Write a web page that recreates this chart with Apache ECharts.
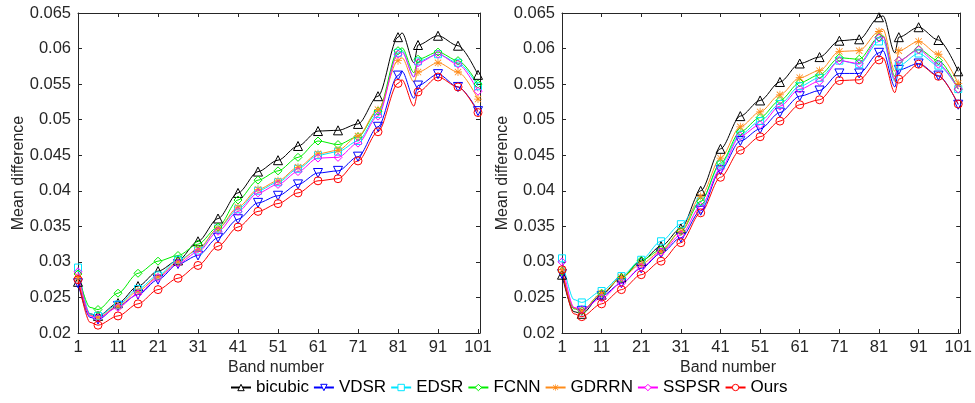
<!DOCTYPE html>
<html>
<head>
<meta charset="utf-8">
<script src="https://cdn.jsdelivr.net/npm/echarts@6/dist/echarts.min.js"></script>
<style>
  html, body { margin: 0; padding: 0; background: #fff; }
  #chart { width: 975px; height: 403px; }
</style>
</head>
<body>
<div id="chart"></div>
<script>
// band positions where values were read (markers sit on every 5th band)
var bands = [1, 4, 6, 11, 16, 21, 26, 31, 36, 41, 46, 51, 56, 61, 66, 71, 76, 81, 82, 85, 86, 91, 96, 101];

var names = ['bicubic', 'VDSR', 'EDSR', 'FCNN', 'GDRRN', 'SSPSR', 'Ours'];

// left panel
var bicubicL = [0.0272, 0.0227, 0.0224, 0.0242, 0.0266, 0.0287, 0.0302, 0.0329, 0.0361, 0.0397, 0.0427, 0.0443, 0.0463, 0.0484, 0.0485, 0.0494, 0.0533, 0.0616, 0.0622, 0.0580, 0.0605, 0.0618, 0.0604, 0.0563];
var vdsrL    = [0.0270, 0.0222, 0.0219, 0.0238, 0.0254, 0.0275, 0.0297, 0.0309, 0.0334, 0.0360, 0.0383, 0.0393, 0.0409, 0.0425, 0.0428, 0.0448, 0.0490, 0.0562, 0.0568, 0.0530, 0.0548, 0.0564, 0.0546, 0.0512];
var edsrL    = [0.0292, 0.0227, 0.0224, 0.0240, 0.0262, 0.0281, 0.0303, 0.0316, 0.0347, 0.0374, 0.0400, 0.0412, 0.0431, 0.0450, 0.0455, 0.0470, 0.0508, 0.0594, 0.0597, 0.0560, 0.0582, 0.0592, 0.0580, 0.0547];
var fcnnL    = [0.0283, 0.0236, 0.0233, 0.0256, 0.0284, 0.0301, 0.0309, 0.0325, 0.0349, 0.0387, 0.0415, 0.0428, 0.0447, 0.0470, 0.0465, 0.0476, 0.0512, 0.0597, 0.0601, 0.0566, 0.0585, 0.0595, 0.0583, 0.0550];
var gdrrnL   = [0.0278, 0.0225, 0.0222, 0.0238, 0.0259, 0.0279, 0.0300, 0.0318, 0.0347, 0.0377, 0.0402, 0.0414, 0.0433, 0.0452, 0.0457, 0.0477, 0.0514, 0.0583, 0.0587, 0.0553, 0.0567, 0.0580, 0.0567, 0.0529];
var sspsrL   = [0.0286, 0.0224, 0.0221, 0.0236, 0.0255, 0.0278, 0.0298, 0.0314, 0.0343, 0.0371, 0.0397, 0.0409, 0.0427, 0.0446, 0.0447, 0.0467, 0.0505, 0.0592, 0.0595, 0.0560, 0.0580, 0.0592, 0.0578, 0.0540];
var oursL    = [0.0275, 0.0215, 0.0211, 0.0224, 0.0241, 0.0261, 0.0277, 0.0295, 0.0322, 0.0349, 0.0371, 0.0382, 0.0397, 0.0414, 0.0417, 0.0442, 0.0483, 0.0551, 0.0556, 0.0519, 0.0539, 0.0560, 0.0546, 0.0510];

// right panel
var bicubicR = [0.0282, 0.0230, 0.0227, 0.0254, 0.0278, 0.0301, 0.0322, 0.0347, 0.0400, 0.0459, 0.0505, 0.0527, 0.0553, 0.0579, 0.0588, 0.0611, 0.0613, 0.0644, 0.0646, 0.0594, 0.0616, 0.0630, 0.0612, 0.0568];
var vdsrR    = [0.0283, 0.0235, 0.0231, 0.0252, 0.0270, 0.0291, 0.0312, 0.0334, 0.0372, 0.0429, 0.0470, 0.0487, 0.0510, 0.0533, 0.0541, 0.0565, 0.0565, 0.0594, 0.0597, 0.0546, 0.0570, 0.0579, 0.0562, 0.0521];
var edsrR    = [0.0305, 0.0247, 0.0243, 0.0259, 0.0280, 0.0303, 0.0329, 0.0353, 0.0385, 0.0437, 0.0479, 0.0498, 0.0522, 0.0547, 0.0559, 0.0583, 0.0578, 0.0610, 0.0612, 0.0554, 0.0576, 0.0593, 0.0576, 0.0543];
var fcnnR    = [0.0287, 0.0234, 0.0231, 0.0256, 0.0278, 0.0302, 0.0317, 0.0343, 0.0385, 0.0439, 0.0483, 0.0503, 0.0527, 0.0552, 0.0563, 0.0587, 0.0585, 0.0616, 0.0618, 0.0561, 0.0583, 0.0599, 0.0583, 0.0543];
var gdrrnR   = [0.0289, 0.0235, 0.0231, 0.0256, 0.0278, 0.0297, 0.0315, 0.0343, 0.0392, 0.0446, 0.0490, 0.0511, 0.0535, 0.0559, 0.0569, 0.0596, 0.0597, 0.0624, 0.0627, 0.0568, 0.0597, 0.0610, 0.0592, 0.0551];
var sspsrR   = [0.0300, 0.0236, 0.0233, 0.0249, 0.0270, 0.0292, 0.0314, 0.0338, 0.0378, 0.0431, 0.0477, 0.0493, 0.0519, 0.0543, 0.0554, 0.0583, 0.0579, 0.0615, 0.0617, 0.0557, 0.0583, 0.0598, 0.0578, 0.0543];
var oursR    = [0.0289, 0.0227, 0.0223, 0.0241, 0.0261, 0.0282, 0.0301, 0.0327, 0.0369, 0.0419, 0.0457, 0.0476, 0.0498, 0.0521, 0.0528, 0.0555, 0.0556, 0.0584, 0.0587, 0.0538, 0.0557, 0.0578, 0.0561, 0.0522];

var leftValues = [bicubicL, vdsrL, edsrL, fcnnL, gdrrnL, sspsrL, oursL];
var rightValues = [bicubicR, vdsrR, edsrR, fcnnR, gdrrnR, sspsrR, oursR];

var colors = ['#000000', '#0000ff', '#00e5ff', '#00ee00', '#ff8c1a', '#ff00ff', '#ff0000'];
var starPath = 'path://M4.5,0L5.5,0L5.5,10L4.5,10Z M0,4.5L10,4.5L10,5.5L0,5.5Z M0.7,1.4L1.4,0.7L9.3,8.6L8.6,9.3Z M8.6,0.7L9.3,1.4L1.4,9.3L0.7,8.6Z';
var symbols = ['triangle', 'path://M0,0L10,0L5,9Z', 'rect', 'diamond', starPath, 'diamond', 'circle'];
var sizes = [9, 9, 7, 8, 8, 8, 8];

var font = 'Liberation Sans';
var frameColor = '#262626';

var chartDom = document.getElementById('chart');
var myChart = echarts.init(chartDom);

// hollow markers, except the asterisk which is a filled path
function markerStyle(i, fill) {
  return i === 4
    ? { color: colors[i], borderWidth: 0 }
    : { color: fill, borderColor: colors[i], borderWidth: 1 };
}

function buildSeries(values, axisIndex) {
  return names.map(function (name, i) {
    return {
      name: name,
      type: 'line',
      xAxisIndex: axisIndex,
      yAxisIndex: axisIndex,
      data: bands.map(function (b, j) { return [b, values[i][j]]; }),
      smooth: 0.3,
      smoothMonotone: 'x',
      symbol: symbols[i],
      symbolSize: function (v) { return (v[0] - 1) % 5 === 0 ? sizes[i] : 0; },
      showAllSymbol: true,
      lineStyle: { color: colors[i], width: 1 },
      itemStyle: markerStyle(i, 'rgba(255,255,255,0)'),
      emphasis: { disabled: true }
    };
  });
}

function xAxes(gridIndex, bottom) {
  return {
    type: 'value',
    gridIndex: gridIndex,
    position: bottom ? 'bottom' : 'top',
    min: 1,
    max: 101.5,
    interval: 10,
    axisLine: { show: true, onZero: false, lineStyle: { color: frameColor, width: 1 } },
    axisTick: { show: true, inside: true, length: 4, lineStyle: { color: frameColor } },
    axisLabel: {
      show: bottom,
      margin: 6,
      color: '#262626',
      fontSize: 16.5,
      fontFamily: font,
      formatter: function (v) { return (v - 1) % 10 === 0 ? String(v) : ''; }
    },
    splitLine: { show: false }
  };
}

function yAxes(gridIndex, left) {
  return {
    type: 'value',
    gridIndex: gridIndex,
    position: left ? 'left' : 'right',
    min: 0.02,
    max: 0.065,
    interval: 0.005,
    axisLine: { show: true, onZero: false, lineStyle: { color: frameColor, width: 1 } },
    axisTick: { show: true, inside: true, length: 4, lineStyle: { color: frameColor } },
    axisLabel: {
      show: left,
      margin: 7,
      color: '#262626',
      fontSize: 16.5,
      fontFamily: font,
      formatter: function (v) { return String(+v.toFixed(3)); }
    },
    splitLine: { show: false }
  };
}

var option = {
  animation: false,
  backgroundColor: '#ffffff',
  grid: [
    { left: 78, top: 13, width: 402, height: 320 },
    { left: 562, top: 13, width: 404, height: 320 }
  ],
  xAxis: [xAxes(0, true), xAxes(0, false), xAxes(1, true), xAxes(1, false)],
  yAxis: [yAxes(0, true), yAxes(0, false), yAxes(1, true), yAxes(1, false)],
  legend: {
    data: names.map(function (name, i) {
      return { name: name, itemStyle: markerStyle(i, '#ffffff') };
    }),
    left: 230,
    top: 379,
    padding: 0,
    itemGap: 4,
    itemWidth: 20,
    itemHeight: 8,
    textStyle: { color: '#000', fontSize: 17, fontFamily: font }
  },
  graphic: [
    { type: 'text', x: 276, y: 368, style: { text: 'Band number', font: '16px "Liberation Sans"', fill: '#262626', textAlign: 'center', textVerticalAlign: 'middle' } },
    { type: 'text', x: 728, y: 368, style: { text: 'Band number', font: '16px "Liberation Sans"', fill: '#262626', textAlign: 'center', textVerticalAlign: 'middle' } },
    { type: 'text', x: 19, y: 173, rotation: Math.PI / 2, style: { text: 'Mean difference', font: '16px "Liberation Sans"', fill: '#262626', textAlign: 'center', textVerticalAlign: 'middle' } },
    { type: 'text', x: 503, y: 173, rotation: Math.PI / 2, style: { text: 'Mean difference', font: '16px "Liberation Sans"', fill: '#262626', textAlign: 'center', textVerticalAlign: 'middle' } }
  ],
  series: buildSeries(leftValues, 0).concat(buildSeries(rightValues, 2))
};

myChart.setOption(option);

window.addEventListener('resize', function () {
  myChart.resize();
});
</script>
</body>
</html>
